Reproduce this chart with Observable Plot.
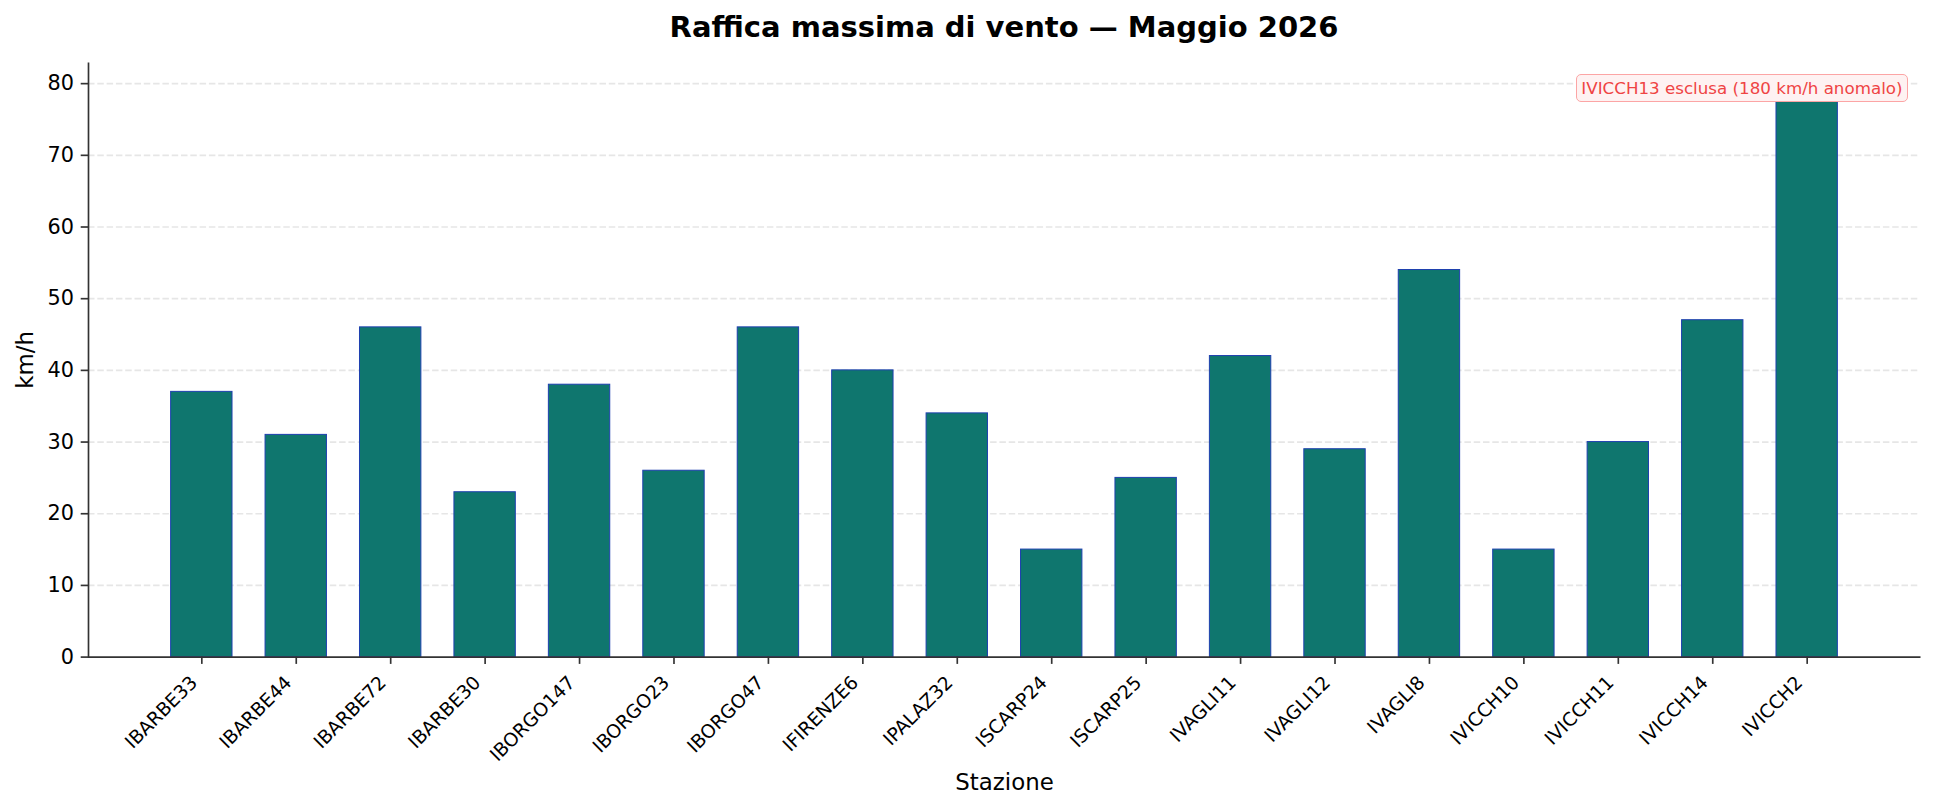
<!DOCTYPE html>
<html>
<head>
<meta charset="utf-8">
<script src="https://cdn.jsdelivr.net/npm/d3@7"></script>
<script src="https://cdn.jsdelivr.net/npm/@observablehq/plot@0.6"></script>
<style>
  html, body { margin: 0; padding: 0; background: #fff; }
  body { width: 1935px; height: 809px; position: relative; overflow: hidden; font-family: "DejaVu Sans", sans-serif; }
  #title { height: 54px; line-height: 54px; padding-left: 88px; padding-right: 15px; text-align: center;
           font-size: 29px; font-weight: bold; color: #000; white-space: nowrap; }
  #note { position: absolute; top: 74px; right: 27px; font-size: 16.7px; color: #ef4444; background: #fef2f2;
          border: 1.3px solid #fca5a5; border-radius: 5px; padding: 1px 4.5px; line-height: 24px; white-space: nowrap; }
  svg { display: block; }
</style>
</head>
<body>
<div id="title">Raffica massima di vento — Maggio 2026</div>
<div id="chart"></div>
<div id="note">IVICCH13 esclusa (180 km/h anomalo)</div>
<script>
const stations = ["IBARBE33","IBARBE44","IBARBE72","IBARBE30","IBORGO147","IBORGO23","IBORGO47","IFIRENZE6","IPALAZ32","ISCARP24","ISCARP25","IVAGLI11","IVAGLI12","IVAGLI8","IVICCH10","IVICCH11","IVICCH14","IVICCH2"];
const gusts = [37, 31, 46, 23, 38, 26, 46, 40, 34, 15, 25, 42, 29, 54, 15, 30, 47, 79];
const yTicks = [0, 10, 20, 30, 40, 50, 60, 70, 80];
const yMax = 82.95;
const xLabel = "Stazione";
const yLabel = "km/h";

const data = stations.map((s, i) => ({station: s, value: gusts[i]}));

const W = 1935, H = 755;
const mL = 88, mR = 15, mT = 8, mB = 152.4;
const fw = W - mL - mR, fh = H - mT - mB;
const spine = "#333";

const chart = Plot.plot({
  width: W, height: H,
  marginLeft: mL, marginRight: mR, marginTop: mT, marginBottom: mB,
  style: {fontFamily: "DejaVu Sans, sans-serif", background: "#fff", color: "#000"},
  x: {type: "band", domain: stations, paddingInner: 0.35, paddingOuter: 0.875, round: false},
  y: {domain: [0, yMax]},
  marks: [
    Plot.gridY(yTicks.filter(t => t > 0), {stroke: "#e6e6e6", strokeOpacity: 1, strokeWidth: 1.7, strokeDasharray: "6.5,2.8"}),
    Plot.barY(data, {x: "station", y: "value", fill: "#0f766e", stroke: "#1e40af", strokeWidth: 1}),
    Plot.frame({stroke: spine, strokeWidth: 1.67, strokeDasharray: `0 ${fw + fh} ${fw + fh}`, fill: "none"}),
    Plot.axisY({ticks: yTicks, tickSize: 7.3, tickPadding: 7.3, fontSize: 20.8, stroke: spine, strokeWidth: 1.67, fill: "#000", label: null}),
    Plot.axisX({tickSize: 7.3, tickFormat: () => "", stroke: spine, strokeWidth: 1.67, label: null}),
    Plot.text(stations, {x: d => d, frameAnchor: "bottom", dx: -7.7, dy: 22.4, rotate: -45, textAnchor: "end", lineAnchor: "middle", fontSize: 18.75, fill: "#000"}),
    Plot.text([xLabel], {frameAnchor: "bottom", dy: 125.4, lineAnchor: "middle", fontSize: 22.9, fill: "#000"}),
    Plot.text([yLabel], {frameAnchor: "left", dx: -63.3, rotate: -90, textAnchor: "middle", lineAnchor: "middle", fontSize: 22.9, fill: "#000"})
  ]
});
document.getElementById("chart").appendChild(chart);
</script>
</body>
</html>
